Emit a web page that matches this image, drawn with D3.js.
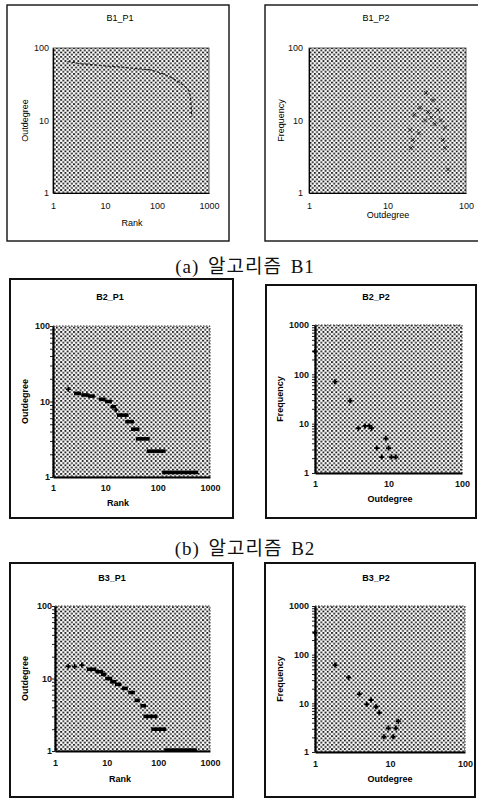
<!DOCTYPE html>
<html>
<head>
<meta charset="utf-8">
<script src="https://cdn.jsdelivr.net/npm/d3@7"></script>
<style>
  body { margin: 0; background: #fff; }
  svg { display: block; }
</style>
</head>
<body>
<svg id="chart"></svg>
<script>
// canvas size
const width = 478;
const height = 799;

// tick labels
const rankTicks = [1, 10, 100, 1000];
const degreeTicks = [1, 10, 100];
const freqTicks100 = [1, 10, 100];
const freqTicks1000 = [1, 10, 100, 1000];

// B1_P1 : rank vs outdegree (thin dashed curve)
const b1p1Rank = [1.9, 3.8, 4.5, 5.5, 7, 9, 11, 13, 16, 19, 24, 30, 40, 55, 73, 100, 130, 178, 230, 280, 316, 370, 420, 440, 450, 458, 465];
const b1p1Outdegree = [65, 60, 60, 59, 58, 57, 56, 56, 55, 55, 54, 53, 52, 51, 50, 47, 44, 40, 36, 33, 31, 28, 25, 21, 17.5, 14, 11.3];

// B1_P2 : outdegree vs frequency
const b1p2Outdegree = [31, 38, 26, 44, 33, 22, 36, 30, 48, 40, 54, 19.5, 25, 21, 51, 20, 54, 59];
const b1p2Frequency = [24, 19, 15, 14, 13, 12, 11, 10, 10, 9, 8, 7.4, 6.7, 5.4, 5.4, 4.2, 4.2, 2.1];

// B2_P1 : runs of equal outdegree over rank
const b2p1RunStart = [1.96, 2.7, 3.7, 5.0, 8.0, 10.5, 13.5, 16, 17.8, 25.6, 33, 41, 66, 130];
const b2p1RunEnd = [1.96, 3.2, 4.5, 5.9, 9.5, 12.5, 15, 17, 26, 33, 42, 66, 133, 560];
const b2p1Outdegree = [14.5, 12.8, 12.2, 11.8, 10.7, 10, 8.5, 7.7, 6.6, 5.4, 4.3, 3.2, 2.2, 1.15];

// B2_P2 : outdegree vs frequency
const b2p2Outdegree = [1, 1.87, 3.0, 3.9, 4.8, 5.5, 5.9, 9.2, 6.9, 10, 8.1, 11, 12.6];
const b2p2Frequency = [290, 71, 29, 8.1, 9, 9, 8.1, 5.05, 3.2, 3.2, 2.1, 2.1, 2.1];

// B3_P1 : runs of equal outdegree over rank
const b3p1RunStart = [1.8, 2.4, 3.3, 4.4, 6.5, 8.3, 10, 12.5, 15.5, 21, 28, 37, 48, 55, 78, 140];
const b3p1RunEnd = [1.8, 2.4, 3.3, 5.9, 8.0, 9.2, 12, 14.5, 18, 24, 33, 41, 54, 90, 133, 520];
const b3p1Outdegree = [14.8, 14.6, 15.3, 13.4, 12.4, 11.4, 10, 9.0, 8.3, 7.3, 6.4, 5.0, 4.2, 3.0, 2.0, 1.03];

// B3_P2 : outdegree vs frequency
const b3p2Outdegree = [1, 1.85, 2.8, 3.9, 4.9, 5.6, 6.5, 7.2, 12.9, 9.5, 12, 8.3, 11];
const b3p2Frequency = [280, 61, 34, 15.5, 9.5, 11.7, 8.5, 6.4, 4.3, 3.1, 3.1, 2.06, 2.06];

const captions = ["(a) 알고리즘 B1", "(b) 알고리즘 B2"];

const svg = d3.select("#chart")
    .attr("width", width)
    .attr("height", height);

// dotted screen used as plot background
const defs = svg.append("defs");
const pat = defs.append("pattern")
    .attr("id", "dots")
    .attr("patternUnits", "userSpaceOnUse")
    .attr("width", 4.3)
    .attr("height", 4.3);
pat.append("rect").attr("x", 0).attr("y", 0).attr("width", 1.9).attr("height", 1.8).attr("fill", "#1e1e1e");
pat.append("rect").attr("x", 2.15).attr("y", 2.15).attr("width", 1.9).attr("height", 1.8).attr("fill", "#1e1e1e");

// panel layouts (positions only)
const panels = [
  { title: "B1_P1", frame: [7, 5, 229, 241], plot: [53, 48, 209, 193], xDomain: [1, 1000], yDomain: [1, 100],
    xTicks: rankTicks, yTicks: degreeTicks, xLabel: "Rank", yLabel: "Outdegree",
    titleXY: [120, 18], xLabelXY: [132, 223], yLabelX: 25, xPad: 10, yPad: 4, bold: false,
    type: "curve", x: b1p1Rank, y: b1p1Outdegree },
  { title: "B1_P2", frame: [265, 5, 482, 241], plot: [309, 48, 466, 193], xDomain: [1, 100], yDomain: [1, 100],
    xTicks: degreeTicks, yTicks: freqTicks100, xLabel: "Outdegree", yLabel: "Frequency",
    titleXY: [376, 18], xLabelXY: [388, 215], yLabelX: 281, xPad: 10, yPad: 6, bold: false,
    type: "thin", x: b1p2Outdegree, y: b1p2Frequency },
  { title: "B2_P1", frame: [10, 279, 233, 518], plot: [53, 326, 210, 477], xDomain: [1, 1000], yDomain: [1, 100],
    xTicks: rankTicks, yTicks: degreeTicks, xLabel: "Rank", yLabel: "Outdegree",
    titleXY: [110, 297], xLabelXY: [118, 503], yLabelX: 25, xPad: 8, yPad: 3, bold: true,
    type: "runs", x0: b2p1RunStart, x1: b2p1RunEnd, y: b2p1Outdegree },
  { title: "B2_P2", frame: [266, 285, 476, 518], plot: [315, 325, 462, 473], xDomain: [1, 100], yDomain: [1, 1000],
    xTicks: degreeTicks, yTicks: freqTicks1000, xLabel: "Outdegree", yLabel: "Frequency",
    titleXY: [376, 297], xLabelXY: [390, 499], yLabelX: 280, xPad: 8, yPad: 6, bold: true,
    type: "bold", x: b2p2Outdegree, y: b2p2Frequency },
  { title: "B3_P1", frame: [10, 563, 233, 797], plot: [55, 606, 210, 751], xDomain: [1, 1000], yDomain: [1, 100],
    xTicks: rankTicks, yTicks: degreeTicks, xLabel: "Rank", yLabel: "Outdegree",
    titleXY: [112, 578], xLabelXY: [120, 779], yLabelX: 25, xPad: 9, yPad: 3, bold: true,
    type: "runs", x0: b3p1RunStart, x1: b3p1RunEnd, y: b3p1Outdegree },
  { title: "B3_P2", frame: [265, 563, 475, 797], plot: [315, 606, 465, 752], xDomain: [1, 100], yDomain: [1, 1000],
    xTicks: degreeTicks, yTicks: freqTicks1000, xLabel: "Outdegree", yLabel: "Frequency",
    titleXY: [376, 578], xLabelXY: [390, 779], yLabelX: 280, xPad: 9, yPad: 6, bold: true,
    type: "bold", x: b3p2Outdegree, y: b3p2Frequency }
];

function minorTicks(domain) {
  const out = [];
  for (let p = domain[0]; p < domain[1]; p *= 10) {
    for (let k = 1; k < 10; k++) out.push(p * k);
  }
  out.push(domain[1]);
  return out;
}

panels.forEach(p => {
  const g = svg.append("g");
  const [l, t, r, b] = p.plot;
  const font = "'Liberation Sans', Arial, sans-serif";
  const weight = p.bold ? "bold" : "normal";

  // outer frame
  g.append("rect")
      .attr("x", p.frame[0]).attr("y", p.frame[1])
      .attr("width", p.frame[2] - p.frame[0]).attr("height", p.frame[3] - p.frame[1])
      .attr("fill", "none").attr("stroke", "#111")
      .attr("stroke-width", p.bold ? 2 : 1.4);

  const x = d3.scaleLog().domain(p.xDomain).range([l, r]);
  const y = d3.scaleLog().domain(p.yDomain).range([b, t]);

  // dotted plot background
  g.append("rect")
      .attr("x", l).attr("y", t).attr("width", r - l).attr("height", b - t)
      .attr("fill", "url(#dots)")
      .attr("stroke", "#333").attr("stroke-width", p.bold ? 1 : 0.8)
      .attr("stroke-dasharray", p.bold ? "1.5,1.5" : null);

  // minor ticks
  if (p.bold) {
    g.append("g").attr("transform", `translate(${l},0)`)
        .call(d3.axisLeft(y).tickValues(minorTicks(p.yDomain)).tickSize(3).tickFormat(""))
        .call(a => a.select(".domain").remove())
        .selectAll("line").attr("stroke", "#222");
  }

  // x axis
  const xa = g.append("g").attr("transform", `translate(0,${b})`)
      .call(d3.axisBottom(x).tickValues(p.xTicks).tickFormat(d3.format("d")).tickSize(0).tickPadding(p.xPad));
  xa.select(".domain").attr("stroke", "#000").attr("stroke-width", p.bold ? 2.2 : 1.2);
  xa.selectAll("text").attr("font-family", font).attr("font-size", 9).attr("font-weight", weight).attr("fill", "#111");

  // y axis
  const ya = g.append("g").attr("transform", `translate(${l},0)`)
      .call(d3.axisLeft(y).tickValues(p.yTicks).tickFormat(d3.format("d")).tickSize(0).tickPadding(p.yPad));
  ya.select(".domain").attr("stroke", "#000").attr("stroke-width", p.bold ? 2.2 : 1.2);
  ya.selectAll("text").attr("font-family", font).attr("font-size", 9).attr("font-weight", weight).attr("fill", "#111");

  // titles
  g.append("text").attr("x", p.titleXY[0]).attr("y", p.titleXY[1]).attr("dy", "0.35em")
      .attr("text-anchor", "middle").attr("font-family", font).attr("font-size", 9)
      .attr("font-weight", weight).text(p.title);
  g.append("text").attr("x", p.xLabelXY[0]).attr("y", p.xLabelXY[1]).attr("dy", "0.35em")
      .attr("text-anchor", "middle").attr("font-family", font).attr("font-size", 9)
      .attr("font-weight", weight).text(p.xLabel);
  g.append("text")
      .attr("transform", `translate(${p.yLabelX},${(t + b) / 2}) rotate(-90)`)
      .attr("dy", "0.35em").attr("text-anchor", "middle").attr("font-family", font)
      .attr("font-size", 9).attr("font-weight", weight).text(p.yLabel);

  // data marks
  if (p.type === "curve") {
    const pts = p.x.map((d, i) => [d, p.y[i]]);
    g.append("path").datum(pts)
        .attr("fill", "none").attr("stroke", "#1a1a1a").attr("stroke-width", 1.1)
        .attr("stroke-dasharray", "3,1.5")
        .attr("d", d3.line().x(d => x(d[0])).y(d => y(d[1])));
  } else if (p.type === "thin") {
    p.x.forEach((d, i) => {
      const cx = x(d), cy = y(p.y[i]);
      g.append("path")
          .attr("d", `M${cx - 2},${cy - 2}L${cx + 2},${cy + 2}M${cx - 2},${cy + 2}L${cx + 2},${cy - 2}`)
          .attr("stroke", "#1a1a1a").attr("stroke-width", 0.9);
    });
  } else if (p.type === "bold") {
    p.x.forEach((d, i) => {
      const cx = x(d), cy = y(p.y[i]);
      g.append("path")
          .attr("d", `M${cx - 2.5},${cy}L${cx + 2.5},${cy}M${cx},${cy - 2.5}L${cx},${cy + 2.5}`)
          .attr("stroke", "#000").attr("stroke-width", 1.8);
    });
  } else if (p.type === "runs") {
    p.y.forEach((v, i) => {
      const x0 = x(p.x0[i]), x1 = x(p.x1[i]), cy = y(v);
      if (x1 - x0 < 2) {
        g.append("path")
            .attr("d", `M${x0 - 2.5},${cy}L${x0 + 2.5},${cy}M${x0},${cy - 2.5}L${x0},${cy + 2.5}`)
            .attr("stroke", "#000").attr("stroke-width", 1.6);
      } else {
        g.append("rect")
            .attr("x", x0 - 1.5).attr("y", cy - 1.8)
            .attr("width", x1 - x0 + 3).attr("height", 3.6)
            .attr("fill", "#000");
      }
    });
  }
});

// sub-figure captions
svg.selectAll(".caption").data(captions).join("text")
    .attr("class", "caption")
    .attr("x", 245)
    .attr("y", (d, i) => [266, 548][i])
    .attr("dy", "0.35em")
    .attr("text-anchor", "middle")
    .attr("font-family", "'Liberation Serif', 'Noto Sans CJK KR', serif")
    .attr("font-size", 19)
    .attr("letter-spacing", 1)
    .attr("word-spacing", 3)
    .attr("fill", "#111")
    .text(d => d);
</script>
</body>
</html>
